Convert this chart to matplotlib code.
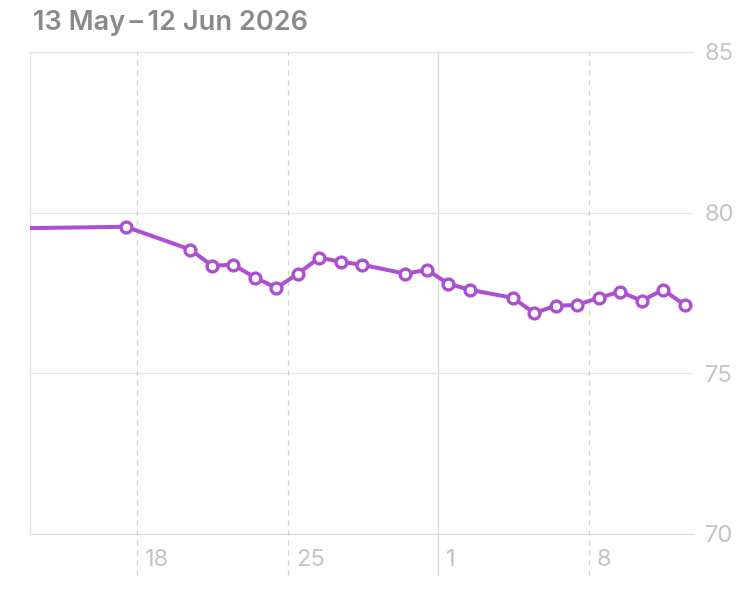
import pandas as pd
import matplotlib
matplotlib.use("Agg")
import matplotlib.pyplot as plt
from matplotlib.transforms import ScaledTranslation

plt.rcParams['font.family'] = ['Inter', 'DejaVu Sans']

# Weight readings (kg), one per measured day
dates = ['2026-05-08', '2026-05-17', '2026-05-20', '2026-05-21', '2026-05-22',
         '2026-05-23', '2026-05-24', '2026-05-25', '2026-05-26', '2026-05-27',
         '2026-05-28', '2026-05-30', '2026-05-31', '2026-06-01', '2026-06-02',
         '2026-06-04', '2026-06-05', '2026-06-06', '2026-06-07', '2026-06-08',
         '2026-06-09', '2026-06-10', '2026-06-11', '2026-06-12']
weights = [79.48, 79.56, 78.85, 78.35, 78.38,
           77.98, 77.66, 78.10, 78.60, 78.47,
           78.38, 78.10, 78.22, 77.79, 77.60,
           77.35, 76.88, 77.10, 77.13, 77.35,
           77.54, 77.26, 77.60, 77.13]

y_ticks = [70, 75, 80, 85]
x_tick_dates = ['2026-05-18', '2026-05-25', '2026-06-01', '2026-06-08']
x_tick_labels = ['18', '25', '1', '8']
month_start = '2026-06-01'

start = pd.Timestamp('2026-05-13')
end = pd.Timestamp('2026-06-13')


def day_num(d):
    return (pd.Timestamp(d) - start) / pd.Timedelta(days=1)


x = [day_num(d) + 0.47 for d in dates]

fig = plt.figure(figsize=(7.48, 6.0), dpi=100)
ax = fig.add_axes([30 / 748, 66 / 600, 666 / 748, 482 / 600])

grid_col = '#e6e6e6'
label_col = '#c4c4c7'

ax.set_xlim(0, day_num(end))
ax.set_ylim(70, 85)

for yv in y_ticks:
    ax.axhline(yv, xmax=0.995, color='#dedede' if yv == 70 else grid_col,
               lw=1.0, zorder=0, clip_on=False)
ax.axvline(0, color=grid_col, lw=1.0, zorder=0, clip_on=False)

for d in x_tick_dates:
    if d == month_start:
        ax.axvline(day_num(d), ymin=-0.085, ymax=1, color='#dadada', lw=1.0,
                   clip_on=False, zorder=0)
    else:
        ax.axvline(day_num(d), ymin=-0.085, ymax=1, color='#d0d0d0', lw=0.9,
                   ls=(0, (4, 4)), clip_on=False, zorder=0)

ax.plot(x, weights, color='#ad4fd3', lw=2.9, marker='o', markersize=7.8,
        markerfacecolor='white', markeredgecolor='#ad4fd3',
        markeredgewidth=2.4, zorder=3, clip_on=True)

for sp in ax.spines.values():
    sp.set_visible(False)

ax.set_xticks([])
ax.yaxis.tick_right()
ax.set_yticks(y_ticks)
ax.set_yticklabels([str(v) for v in y_ticks])
ax.tick_params(axis='y', length=0, pad=6.5, labelsize=17, labelcolor=label_col)

off = ScaledTranslation(8 / 100, 0, fig.dpi_scale_trans)
for d, lab in zip(x_tick_dates, x_tick_labels):
    ax.text(day_num(d), -0.054, lab, transform=ax.get_xaxis_transform() + off,
            ha='left', va='center', fontsize=17, color=label_col)

fig.text(33 / 748, 1 - 23 / 600, '13 May\u2009\u2013\u200912 Jun 2026', ha='left',
         va='center', fontsize=19.5, color='#8a8a8e', fontweight='semibold')

fig.savefig('out.png', dpi=100, facecolor='white')
